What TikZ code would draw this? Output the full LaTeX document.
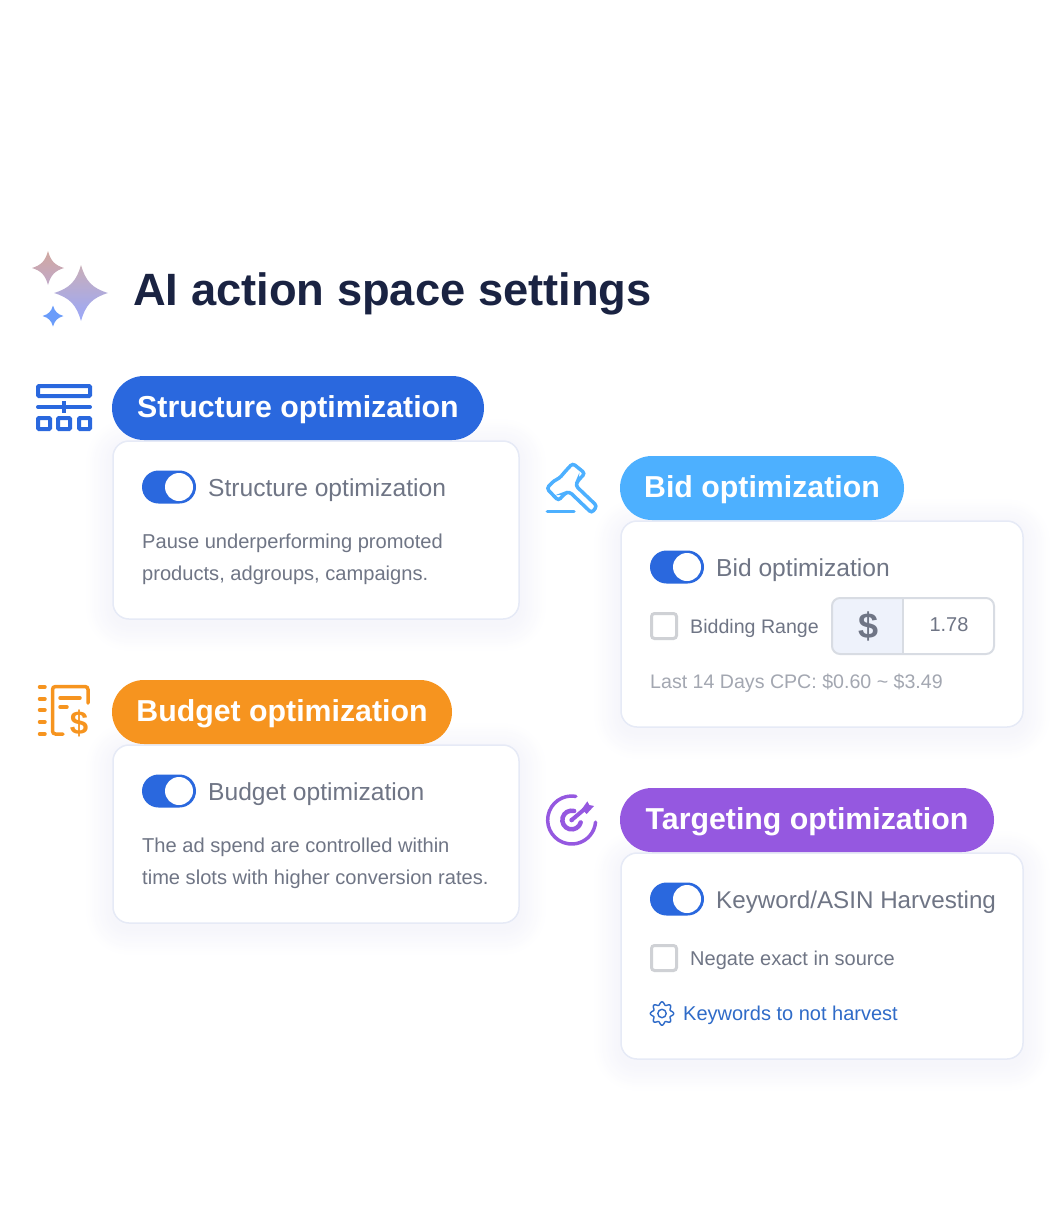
\documentclass[tikz,border=0pt]{standalone}
\usepackage{fontspec}
\setmainfont{Liberation Sans}
\usetikzlibrary{backgrounds}
\definecolor{navy}{HTML}{1A2342}
\definecolor{bluepill}{HTML}{2A68DE}
\definecolor{skypill}{HTML}{4DB0FF}
\definecolor{orangepill}{HTML}{F6941F}
\definecolor{purplepill}{HTML}{9558E0}
\definecolor{cardline}{HTML}{E6EAF6}
\definecolor{greytext}{HTML}{6F7585}
\definecolor{lighttext}{HTML}{A3A7B1}
\definecolor{boxline}{HTML}{D8DCE3}
\definecolor{boxfill}{HTML}{EEF2FB}
\definecolor{tickline}{HTML}{CFD1D5}
\definecolor{linkblue}{HTML}{2F6BC8}
\definecolor{sparktop}{HTML}{D1A8A0}
\definecolor{sparklow}{HTML}{C0A8C8}
\definecolor{sparkpale}{HTML}{C9AEB8}
\definecolor{sparkmid}{HTML}{BDA9D8}
\definecolor{sparkend}{HTML}{9AA8FB}
\definecolor{sparkblue}{HTML}{6A9CFA}
\newcommand{\fsize}[1]{\fontsize{#1}{#1}\selectfont}
\newcommand{\sparkle}{(0,-1) .. controls (.17,-.42) and (.42,-.17) .. (1,0) .. controls (.42,.17) and (.17,.42) .. (0,1) .. controls (-.17,.42) and (-.42,.17) .. (-1,0) .. controls (-.42,-.17) and (-.17,-.42) .. (0,-1) -- cycle}
\tikzstyle{pill}=[rounded corners=32pt,minimum height=64pt,inner sep=0pt,text=white,text height=24pt,text depth=6pt,font=\fsize{30.3}\bfseries]
\tikzstyle{card}=[draw=cardline,line width=1.5pt,fill=white,rounded corners=16pt,inner sep=0pt]
\tikzstyle{toggle}=[fill=bluepill,rounded corners=16.5pt,minimum width=54pt,minimum height=33pt,inner sep=0pt]
\tikzstyle{knob}=[circle,fill=white,minimum size=28pt,inner sep=0pt]
\tikzstyle{switchtext}=[anchor=base west,inner sep=0pt,text=greytext,font=\fsize{24.6}]
\tikzstyle{bodytext}=[anchor=base west,inner sep=0pt,text=greytext,font=\fsize{20.1}]
\tikzstyle{tick}=[draw=tickline,line width=3pt,rounded corners=3pt,fill=white,minimum size=25pt,inner sep=0pt]

\begin{document}
\begin{tikzpicture}[x=1pt,y=-1pt]
	\useasboundingbox (0,0) rectangle (1056,1220);

	% sparkles
	\shade[top color=sparktop,bottom color=sparklow,shift={(48,268)},x=16pt,y=-17pt] \sparkle;
	\shade[top color=sparkpale,middle color=sparkmid,bottom color=sparkend,shift={(81,293)},x=27pt,y=-28pt] \sparkle;
	\fill[sparkblue,shift={(53,316)},x=10.5pt,y=-10.5pt] \sparkle;
	\node[anchor=base west,inner sep=0pt,text=navy,font=\fsize{45.3}\bfseries] (title) at (133,305) {AI action space settings};

	% cards
	\node[card,minimum width=406pt,minimum height=178pt] (structcard) at (316,530) {};
	\node[card,minimum width=402pt,minimum height=206pt] (bidcard) at (822,624) {};
	\node[card,minimum width=406pt,minimum height=178pt] (budgetcard) at (316,834) {};
	\node[card,minimum width=402pt,minimum height=206pt] (targetcard) at (822,956) {};
	\begin{scope}[on background layer]
		\foreach \c in {structcard,bidcard,budgetcard,targetcard}
			\foreach \s in {2,4,...,26}
				\fill[blue!40!gray,opacity=.004,rounded corners=16pt+\s pt] ([shift={(-\s,-\s+5)}]\c.north west) rectangle ([shift={(\s,\s+5)}]\c.south east);
	\end{scope}

	% pills
	\node[pill,fill=bluepill,minimum width=372pt] (structpill) at (298,408) {Structure optimization};
	\node[pill,fill=skypill,minimum width=284pt] (bidpill) at (762,488) {Bid optimization};
	\node[pill,fill=orangepill,minimum width=340pt] (budgetpill) at (282,712) {Budget optimization};
	\node[pill,fill=purplepill,minimum width=374pt] (targetpill) at (807,820) {Targeting optimization};

	% structure card
	\node[toggle] (structtog) at (169,487) {};
	\node[knob] (structknob) at (179,487) {};
	\node[switchtext] (structname) at (208,496) {Structure optimization};
	\node[bodytext] (structa) at (142,548) {Pause underperforming promoted};
	\node[bodytext] (structb) at (142,580) {products, adgroups, campaigns.};

	% budget card
	\node[toggle] (budgettog) at (169,791) {};
	\node[knob] (budgetknob) at (179,791) {};
	\node[switchtext] (budgetname) at (208,800) {Budget optimization};
	\node[bodytext] (budgeta) at (142,852) {The ad spend are controlled within};
	\node[bodytext] (budgetb) at (142,884) {time slots with higher conversion rates.};

	% bid card
	\node[toggle] (bidtog) at (677,567) {};
	\node[knob] (bidknob) at (687,567) {};
	\node[switchtext] (bidname) at (716,576) {Bid optimization};
	\node[tick] (bidtick) at (664,626) {};
	\node[bodytext,font=\fsize{19.6}] (bidrange) at (690,633) {Bidding Range};
	\fill[boxfill] (903,654) [rounded corners=8pt] -- (832,654) -- (832,598) [sharp corners] -- (903,598) -- cycle;
	\node[draw=boxline,line width=2pt,rounded corners=8pt,minimum width=162pt,minimum height=56pt] (inputbox) at (913,626) {};
	\coordinate (dividertop) at (903,598);
	\coordinate (dividerend) at (903,654);
	\draw[boxline,line width=2pt] (dividertop) -- (dividerend);
	\node[inner sep=0pt,text=greytext,font=\fsize{36}\bfseries] (dollar) at (868,626) {\$};
	\node[inner sep=0pt,text=greytext,font=\fsize{20}] (amount) at (949,625) {1.78};
	\node[bodytext,font=\fsize{19.6},text=lighttext] (lastcpc) at (650,688) {Last 14 Days CPC: \$0.60 \textasciitilde{} \$3.49};

	% targeting card
	\node[toggle] (targettog) at (677,899) {};
	\node[knob] (targetknob) at (687,899) {};
	\node[switchtext,font=\fsize{24.2}] (targetname) at (716,908) {Keyword/ASIN Harvesting};
	\node[tick] (targettick) at (664,958) {};
	\node[bodytext,font=\fsize{20}] (negate) at (690,965) {Negate exact in source};
	\coordinate (gear) at (662,1013.5);
	\draw[linkblue,line width=1.4pt,shift={(gear)}] plot[domain=0:356,samples=90,smooth] (\x:{10.2+1.5*cos(8*\x)}) -- cycle;
	\draw[linkblue,line width=1.4pt] (gear) circle[radius=4.2];
	\node[bodytext,font=\fsize{20},text=linkblue] (harvest) at (683,1020) {Keywords to not harvest};

	% structure icon
	\begin{scope}[bluepill,line width=4pt]
		\draw[rounded corners=1pt] (38,386) rectangle (90,396);
		\draw[line cap=round] (38,407) -- (90,407);
		\draw (64,401) -- (64,413);
		\draw[rounded corners=1pt] (38,418) rectangle (50,429);
		\draw[rounded corners=1pt] (58,418) rectangle (70,429);
		\draw[rounded corners=1pt] (79,418) rectangle (90,429);
	\end{scope}

	% budget icon
	\begin{scope}[orangepill,line width=3.5pt,line cap=round]
		\foreach \y in {687,699,710,722,734}
			\draw (39.5,\y) -- (45,\y);
		\draw[rounded corners=3pt] (63,734) -- (52.5,734) -- (52.5,686.5) -- (88,686.5) -- (88,703);
		\draw (60,698) -- (80,698);
		\draw (60,707) -- (67,707);
		\node[inner sep=0pt,text=orangepill,font=\fsize{33}\bfseries] (budgetsign) at (79,723) {\$};
	\end{scope}

	% gavel icon, numbers read from a 3x crop
	\begin{scope}[shift={(530,450)},x=.3333pt,y=-.3333pt,skypill,line width=3.5pt]
		\draw[rounded corners=3pt] (128,40) -- (165,70) -- (143,93) -- (137,107) -- (201,168) -- (185,189) -- (118,125) -- (105,130) -- (85,152) -- (50,115) -- (72,92) -- (88,85) -- (105,65) -- cycle;
		\draw[line cap=round] (52,185) -- (132,185);
	\end{scope}

	% target icon, same
	\begin{scope}[shift={(530,780)},x=.3333pt,y=-.3333pt,purplepill,line width=3.5pt]
		\coordinate (targetc) at (125,120);
		\draw[line cap=round] ([shift={(-80:72)}]targetc) arc[start angle=-80,end angle=-355,radius=72];
		\draw[line cap=round,line width=4.5pt] ([shift={(-75:28)}]targetc) arc[start angle=-75,end angle=-345,radius=28];
		\draw[line width=4pt] (targetc) -- (170,82);
		\fill (targetc) circle[radius=7];
		\fill (155,88) -- (172,64) -- (178,75) -- (192,78) -- (170,102) -- cycle;
	\end{scope}
\end{tikzpicture}
\end{document}
